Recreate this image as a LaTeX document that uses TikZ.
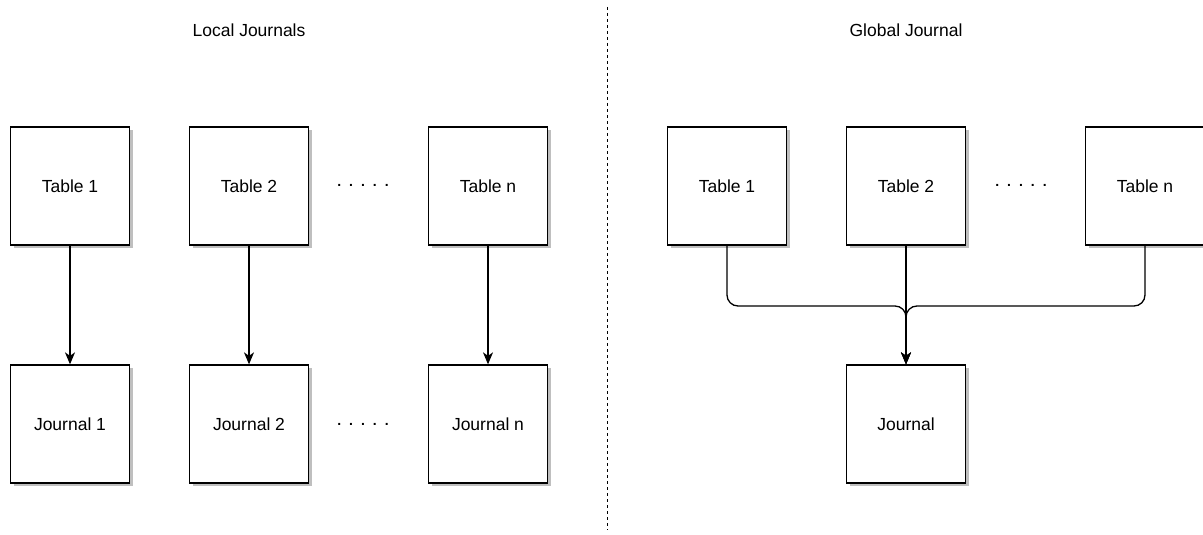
\documentclass[tikz,border=0pt]{standalone}
\usepackage{fontspec}
\setmainfont{Liberation Sans}
\usetikzlibrary{shadows,arrows.meta}
\tikzset{
  box/.style={draw, line width=1.3pt, fill=white, minimum width=119pt, minimum height=118pt,
    inner sep=0pt, font=\fontsize{17.5}{21}\selectfont,
    drop shadow={shadow xshift=3pt, shadow yshift=-3pt, fill=black!25, opacity=1}},
  link/.style={draw, line width=1.3pt, -{Stealth[length=12pt, width=10pt, inset=3.5pt]}},
  heading/.style={font=\fontsize{17.5}{21}\selectfont},
  dots/.style={font=\fontsize{14}{17}\selectfont\bfseries},
  divider/.style={line width=1pt, dash pattern=on 3pt off 3pt}
}
\newcommand{\dotrow}{.\hspace{8pt}.\hspace{8pt}.\hspace{8pt}.\hspace{8pt}.}
\begin{document}
\begin{tikzpicture}[x=1pt, y=-1pt]
  \useasboundingbox (0,0) rectangle (1203,535);

  % section headings
  \node[heading] (hl) at (249,30) {Local Journals};
  \node[heading] (hg) at (906,30) {Global Journal};

  % divider between the two schemes
  \coordinate (dtop) at (607,7);
  \coordinate (dbot) at (607,530);
  \draw[divider] (dtop) -- (dbot);

  % local journals: one journal per table
  \node[box] (lt1) at (70,186)  {Table 1};
  \node[box] (lt2) at (249,186) {Table 2};
  \node[box] (ltn) at (488,186) {Table n};
  \node[box] (lj1) at (70,424)  {Journal 1};
  \node[box] (lj2) at (249,424) {Journal 2};
  \node[box] (ljn) at (488,424) {Journal n};
  \node[dots] (ldt) at (363,185) {\dotrow};
  \node[dots] (ldj) at (363,424) {\dotrow};

  \draw[link] (lt1) -- (lj1);
  \draw[link] (lt2) -- (lj2);
  \draw[link] (ltn) -- (ljn);

  % global journal: all tables feed one journal
  \node[box] (gt1) at (727,186)  {Table 1};
  \node[box] (gt2) at (906,186)  {Table 2};
  \node[box] (gtn) at (1145,186) {Table n};
  \node[box] (gj)  at (906,424)  {Journal};
  \node[dots] (gdt) at (1021,185) {\dotrow};

  \draw[link, rounded corners=11pt] (gt1.south) |- (906,306) -- (gj.north);
  \draw[link, rounded corners=11pt] (gtn.south) |- (906,306) -- (gj.north);
  \draw[link] (gt2) -- (gj);
\end{tikzpicture}
\end{document}
